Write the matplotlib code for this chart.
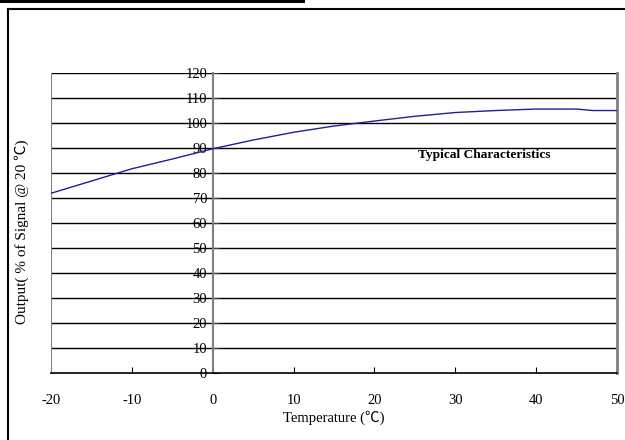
import matplotlib.pyplot as plt
from matplotlib.lines import Line2D
from matplotlib.patches import Rectangle

# Datos
temperatura = [-20, -15, -10, -5, 0, 5, 10, 15, 20, 25, 30, 35, 40, 45, 47, 50]
salida = [71.9, 76.8, 81.7, 85.6, 89.7, 93.2, 96.3, 98.8, 100.8, 102.7, 104.2, 105.0, 105.6, 105.6, 105.0, 105.0]

x_ticks = [-20, -10, 0, 10, 20, 30, 40, 50]
y_ticks = [0, 10, 20, 30, 40, 50, 60, 70, 80, 90, 100, 110, 120]

fuente = ['Liberation Serif', 'Noto Sans CJK SC']


def main():
    plt.rcParams['font.family'] = fuente
    plt.rcParams['axes.unicode_minus'] = False
    fig = plt.figure(figsize=(6.25, 4.4), dpi=100)
    ax = fig.add_axes([0.0816, 0.1523, 0.9056, 0.6817])

    # Lineas de cuadricula horizontales
    for y in y_ticks[1:]:
        ax.axhline(y, color='black', lw=1, zorder=1)

    ax.plot(temperatura, salida, color='#1f1f9f', lw=1, zorder=3)

    ax.set_xlim(-20, 50)
    ax.set_ylim(0, 120)

    # Eje Y en x = 0
    ax.spines['left'].set_position(('data', 0))
    ax.spines['left'].set_color('#808080')
    ax.spines['left'].set_linewidth(1.5)
    ax.spines['right'].set_color('#808080')
    ax.spines['right'].set_linewidth(2)
    ax.spines['top'].set_visible(False)
    ax.spines['bottom'].set_linewidth(1.2)
    ax.axvline(-20, color='#808080', lw=1.5, zorder=2)

    ax.set_xticks(x_ticks)
    ax.set_yticks(y_ticks)
    ax.tick_params(axis='x', direction='in', length=4, pad=15, labelsize=10.5)
    ax.tick_params(axis='y', direction='in', length=4, pad=4, labelsize=10.5,
                   color='#404040')

    ax.text(25.4, 87.2, 'Typical Characteristics', fontsize=9.6,
            fontweight='bold', va='center', ha='left')

    fig.text(334 / 625, 1 - 418 / 440, 'Temperature (℃)', fontsize=10.5,
             ha='center', va='center')
    fig.text(22 / 625, 1 - 232 / 440, 'Output( % of Signal @ 20 ℃)', fontsize=11,
             ha='center', va='center', rotation=90)

    # Marco exterior y barra superior
    fig.add_artist(Line2D([8 / 625, 8 / 625], [0, 1 - 9 / 440],
                          transform=fig.transFigure, color='black', lw=1.5))
    fig.add_artist(Line2D([8 / 625, 1], [1 - 9 / 440, 1 - 9 / 440],
                          transform=fig.transFigure, color='black', lw=1.5))
    fig.add_artist(Rectangle((0, 1 - 3.5 / 440), 305 / 625, 3.5 / 440,
                             transform=fig.transFigure, color='black', lw=0))

    fig.savefig('out.png', dpi=100)


if __name__ == '__main__':
    main()
